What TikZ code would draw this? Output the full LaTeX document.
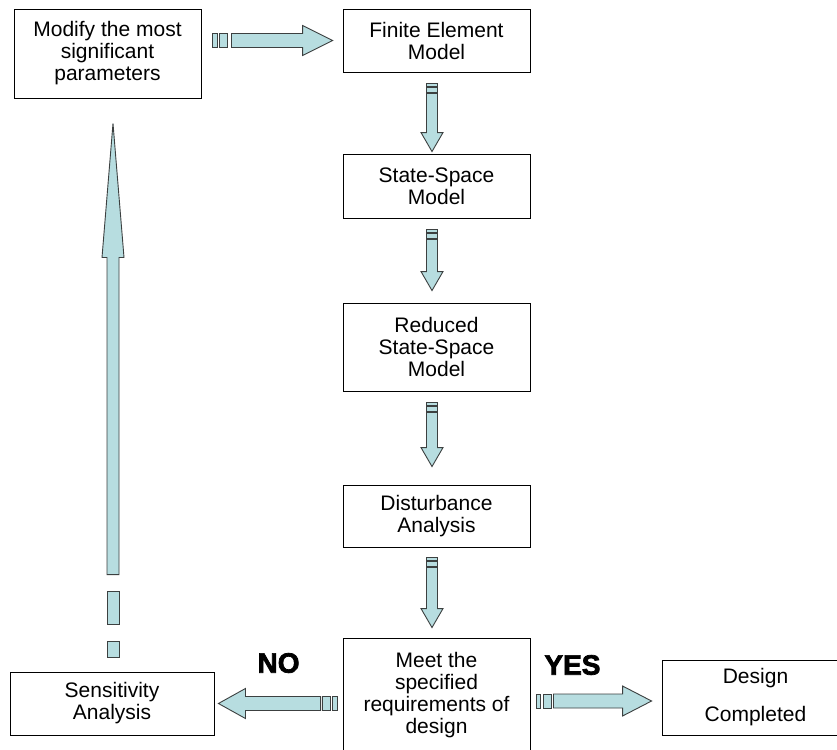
\documentclass[tikz,border=0pt]{standalone}
\usepackage{fontspec}
\setmainfont{Liberation Sans}
\newfontfamily\heavyfont[FakeBold=2.6]{Liberation Sans Bold}
\usetikzlibrary{calc}
\definecolor{arrfill}{RGB}{183,221,224}
\definecolor{arrline}{RGB}{60,64,64}
\tikzset{
  box/.style={draw=black, line width=0.9pt, fill=white, align=center, inner sep=0pt,
    font=\fontsize{21}{22}\selectfont},
  blockarrow/.style={draw=arrline, fill=arrfill, line width=0.9pt, line join=miter},
  yesno/.style={inner sep=0pt, font=\fontsize{28}{30}\heavyfont}
}
% #1 tail, #2 tip, #3 shaft half width, #4 head half width, #5 head length,
% #6 end of stub 1, #7 start of stub 2, #8 end of stub 2, #9 start of shaft
\newcommand\barrow[9]{%
  \coordinate (bxA) at (#1);
  \coordinate (bxB) at (#2);
  \coordinate (bxC) at ($(bxB)!#5!(bxA)$);
  \coordinate (bxD) at ($(bxA)!#9!(bxB)$);
  \coordinate (bxE) at ($(bxA)!#6!(bxB)$);
  \coordinate (bxF) at ($(bxA)!#7!(bxB)$);
  \coordinate (bxG) at ($(bxA)!#8!(bxB)$);
  \filldraw[blockarrow] ($(bxD)!#3!90:(bxB)$) -- ($(bxC)!#3!90:(bxB)$) -- ($(bxC)!#4!90:(bxB)$) -- (bxB)
    -- ($(bxC)!#4!-90:(bxB)$) -- ($(bxC)!#3!-90:(bxB)$) -- ($(bxD)!#3!-90:(bxB)$) -- cycle;
  \filldraw[blockarrow] ($(bxA)!#3!90:(bxB)$) -- ($(bxE)!#3!90:(bxB)$) -- ($(bxE)!#3!-90:(bxB)$) -- ($(bxA)!#3!-90:(bxB)$) -- cycle;
  \filldraw[blockarrow] ($(bxF)!#3!90:(bxB)$) -- ($(bxG)!#3!90:(bxB)$) -- ($(bxG)!#3!-90:(bxB)$) -- ($(bxF)!#3!-90:(bxB)$) -- cycle;
}
\begin{document}
\begin{tikzpicture}[x=1pt, y=-1pt]
\clip (0,0) rectangle (837,749);
\fill[white] (0,0) rectangle (837,749);

% boxes
\node[box, minimum width=187, minimum height=89] (mod) at (107.5,53.5) {Modify the most\\significant\\parameters};
\node[box, minimum width=187, minimum height=63] (fem) at (436.5,40.5) {Finite Element\\Model};
\node[box, minimum width=187, minimum height=64] (ss) at (436.5,186) {State-Space\\Model};
\node[box, minimum width=187, minimum height=88] (rss) at (436.5,347) {Reduced\\State-Space\\Model};
\node[box, minimum width=187, minimum height=62] (dist) at (436.5,516) {Disturbance\\Analysis};
\node[box, minimum width=187, minimum height=114] (meet) at (436.5,695) {Meet the\\specified\\requirements of\\design};
\node[box, minimum width=204, minimum height=63] (sens) at (112,703.5) {Sensitivity\\Analysis};
\node[box, minimum width=187, minimum height=75] (des) at (755.5,697.5) {Design\\[16pt]Completed};

% labels
\node[yesno] (no) at ($(meet.west)+(-64,-32)$) {NO};
\node[yesno] (yes) at ($(meet.east)+(42,-30)$) {YES};

% connectors
\coordinate (a1s) at ($(mod.east |- fem.west)+(11,0)$);
\coordinate (a1e) at ($(fem.west)+(-10,0)$);
\barrow{a1s}{a1e}{7pt}{15pt}{30pt}{5pt}{7pt}{15pt}{19pt}

\coordinate (a2s) at ($(fem.south)+(-4.5,11)$);
\coordinate (a2e) at ($(ss.north)+(-4.5,-2)$);
\barrow{a2s}{a2e}{5.5pt}{11pt}{19pt}{3pt}{4pt}{9pt}{10pt}

\coordinate (a3s) at ($(ss.south)+(-4.5,11)$);
\coordinate (a3e) at ($(rss.north)+(-4.5,-12)$);
\barrow{a3s}{a3e}{5.5pt}{11pt}{19pt}{3pt}{4pt}{9pt}{10pt}

\coordinate (a4s) at ($(rss.south)+(-4.5,11)$);
\coordinate (a4e) at ($(dist.north)+(-4.5,-18)$);
\barrow{a4s}{a4e}{5.5pt}{11pt}{19pt}{3pt}{4pt}{9pt}{10pt}

\coordinate (a5s) at ($(dist.south)+(-4.5,10)$);
\coordinate (a5e) at ($(meet.north)+(-4.5,-10)$);
\barrow{a5s}{a5e}{5.5pt}{11pt}{19pt}{3pt}{4pt}{9pt}{10pt}

\coordinate (a6s) at ($(meet.west |- sens.east)+(-5,0)$);
\coordinate (a6e) at ($(sens.east)+(4,0)$);
\barrow{a6s}{a6e}{7pt}{15pt}{27pt}{5pt}{7pt}{15pt}{17pt}

\coordinate (a7s) at ($(meet.east)+(6,6)$);
\coordinate (a7e) at ($(des.west)+(-10,3.5)$);
\barrow{a7s}{a7e}{7pt}{15pt}{29pt}{4pt}{7pt}{15pt}{17pt}

\coordinate (a8s) at ($(sens.north)+(1,-14)$);
\coordinate (a8e) at ($(mod.south)+(5.5,25)$);
\barrow{a8s}{a8e}{6pt}{11pt}{134pt}{16pt}{33pt}{66pt}{83pt}
\end{tikzpicture}
\end{document}
